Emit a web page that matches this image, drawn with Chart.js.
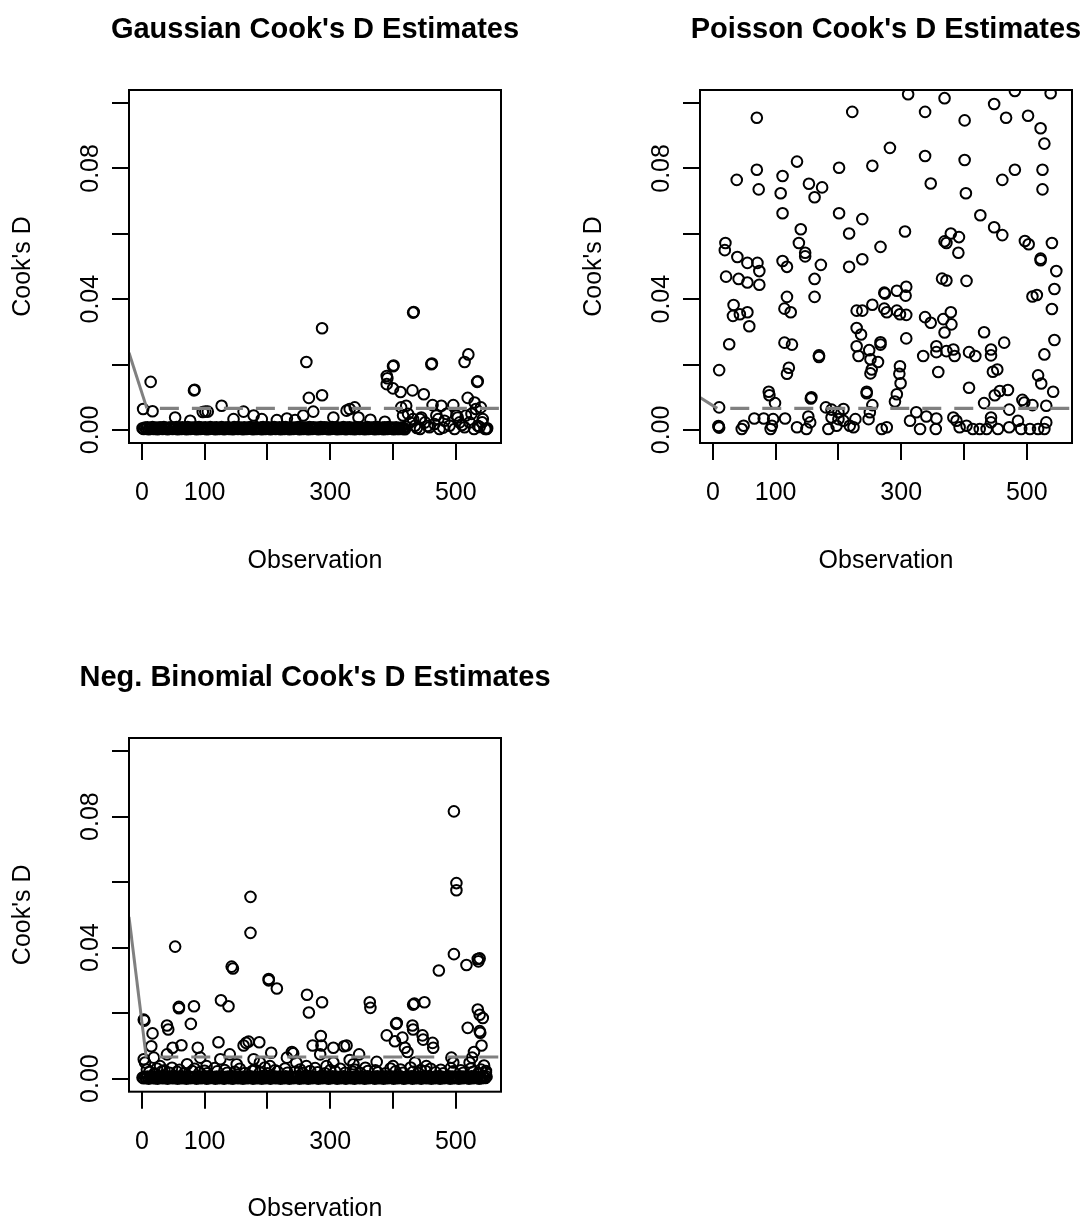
<!DOCTYPE html>
<html>
<head>
<meta charset="utf-8">
<script src="https://cdn.jsdelivr.net/npm/chart.js@4.4.1/dist/chart.umd.min.js"></script>
<style>
  html, body { margin: 0; padding: 0; background: #fff; overflow: hidden; }
  #wrap { position: relative; width: 1088px; height: 1220px; background: #fff; overflow: hidden; }
  canvas { position: absolute; }
</style>
</head>
<body>
<div id="wrap">
  <canvas id="c1" width="630" height="610" style="left:0;top:0;"></canvas>
  <canvas id="c2" width="630" height="610" style="left:571px;top:0;"></canvas>
  <canvas id="c3" width="630" height="572" style="left:0;top:648px;"></canvas>
</div>
<script>
// ---------------- data ----------------
const panelTitles = ["Gaussian Cook's D Estimates", "Poisson Cook's D Estimates", "Neg. Binomial Cook's D Estimates"];
const xAxisTitle = "Observation";
const yAxisTitle = "Cook's D";
const xTickValues = [0, 100, 200, 300, 400, 500];
const xTickLabels = ["0", "100", "", "300", "", "500"];
const yTickValues = [0, 0.02, 0.04, 0.06, 0.08, 0.10];
const yTickLabels = ["0.00", "", "0.04", "", "0.08", ""];
const cutoffD = 0.0066;

// Gaussian: upper points
const gaussianUpper = [[2,0.0064],[14,0.0147],[17,0.0057],[53,0.0038],[77,0.0028],[83,0.0121],[84,0.0123],[97,0.0055],[101,0.0056],[105,0.0056],[127,0.0074],[146,0.0033],[162,0.0056],[178,0.0044],[191,0.0033],[215,0.0030],[231,0.0035],[244,0.0030],[257,0.0044],[262,0.0208],[266,0.0098],[273,0.0056],[287,0.0311],[287,0.0106],[305,0.0038],[326,0.0059],[331,0.0064],[339,0.0069],[345,0.0038],[364,0.0031],[387,0.0025],[390,0.0165],[390,0.0140],[391,0.0158],[400,0.0195],[401,0.0197],[400,0.0127],[412,0.0116],[413,0.0069],[416,0.0044],[421,0.0074],[424,0.0049],[431,0.0121],[432,0.0359],[433,0.0361],[443,0.0033],[449,0.0109],[461,0.0201],[462,0.0203],[463,0.0076],[469,0.0044],[477,0.0074],[485,0.0049],[496,0.0076],[501,0.0044],[514,0.0208],[519,0.0098],[520,0.0231],[525,0.0049],[530,0.0084],[534,0.0147],[535,0.0149],[540,0.0069],[543,0.0033],[549,0.0003],[550,0.0005]];
// Gaussian: low points at the right end
const gaussianRightLow = [[410,0.0003],[416,0.0005],[427,0.0023],[432,0.0033],[435,0.0013],[443,0.0003],[445,0.0038],[451,0.0023],[458,0.0008],[466,0.0018],[472,0.0033],[474,0.0003],[482,0.0028],[490,0.0013],[498,0.0003],[503,0.0038],[506,0.0023],[514,0.0008],[516,0.0044],[522,0.0023],[529,0.0003],[532,0.0064],[535,0.0013],[542,0.0023],[547,0.0003],[420,0.0010],[438,0.0006],[455,0.0012],[480,0.0007],[510,0.0015],[538,0.0009]];
// Gaussian: dense band near zero
const gaussianBand = [[1,.0005],[3,.0003],[5,.0007],[7,.0004],[9,.0008],[11,.0002],[13,.0006],[15,.0005],[17,.0009],[19,.0003],[21,.0004],[23,.0007],[25,.0002],[27,.0006],[29,.0008],[31,.0005],[33,.0003],[35,.0009],[37,.0004],[39,.0006],
[41,.0002],[43,.0007],[45,.0005],[47,.0008],[49,.0003],[51,.0006],[53,.0004],[55,.0009],[57,.0002],[59,.0005],[61,.0007],[63,.0003],[65,.0008],[67,.0004],[69,.0006],[71,.0002],[73,.0009],[75,.0005],[77,.0003],[79,.0007],
[81,.0006],[83,.0004],[85,.0008],[87,.0002],[89,.0005],[91,.0009],[93,.0003],[95,.0007],[97,.0004],[99,.0006],[101,.0008],[103,.0002],[105,.0005],[107,.0003],[109,.0009],[111,.0006],[113,.0004],[115,.0007],[117,.0002],[119,.0008],
[121,.0005],[123,.0003],[125,.0006],[127,.0009],[129,.0004],[131,.0002],[133,.0007],[135,.0005],[137,.0008],[139,.0003],[141,.0006],[143,.0004],[145,.0002],[147,.0009],[149,.0005],[151,.0007],[153,.0003],[155,.0008],[157,.0004],[159,.0006],
[161,.0002],[163,.0008],[165,.0005],[167,.0003],[169,.0007],[171,.0004],[173,.0009],[175,.0006],[177,.0002],[179,.0005],[181,.0008],[183,.0003],[185,.0006],[187,.0004],[189,.0007],[191,.0002],[193,.0009],[195,.0005],[197,.0003],[199,.0006],
[201,.0008],[203,.0004],[205,.0002],[207,.0007],[209,.0005],[211,.0009],[213,.0003],[215,.0006],[217,.0004],[219,.0008],[221,.0002],[223,.0005],[225,.0007],[227,.0003],[229,.0009],[231,.0006],[233,.0004],[235,.0002],[237,.0008],[239,.0005],
[241,.0003],[243,.0007],[245,.0006],[247,.0004],[249,.0009],[251,.0002],[253,.0005],[255,.0008],[257,.0003],[259,.0006],[261,.0007],[263,.0004],[265,.0002],[267,.0009],[269,.0005],[271,.0003],[273,.0008],[275,.0006],[277,.0004],[279,.0007],
[281,.0002],[283,.0005],[285,.0009],[287,.0003],[289,.0006],[291,.0008],[293,.0004],[295,.0007],[297,.0002],[299,.0005],[301,.0003],[303,.0009],[305,.0006],[307,.0004],[309,.0008],[311,.0002],[313,.0007],[315,.0005],[317,.0003],[319,.0006],
[321,.0009],[323,.0004],[325,.0002],[327,.0007],[329,.0005],[331,.0008],[333,.0003],[335,.0006],[337,.0004],[339,.0002],[341,.0009],[343,.0005],[345,.0007],[347,.0003],[349,.0008],[351,.0006],[353,.0004],[355,.0002],[357,.0005],[359,.0009],
[361,.0003],[363,.0007],[365,.0006],[367,.0004],[369,.0008],[371,.0002],[373,.0005],[375,.0009],[377,.0003],[379,.0006],[381,.0004],[383,.0007],[385,.0002],[387,.0008],[389,.0005],[391,.0003],[393,.0009],[395,.0006],[397,.0004],[399,.0007],
[401,.0002],[403,.0005],[405,.0008],[407,.0003],[409,.0006],[411,.0004],[413,.0007],[415,.0003],[417,.0006],[419,.0002]];
const gaussianLead = [[-20.5,0.0236],[8,0.0066]];

// Poisson
const poissonUpper = [[311,0.1027],[369,0.1015],[481,0.1037],[538,0.1030],[448,0.0997],[70,0.0955],[222,0.0973],[338,0.0973],[401,0.0947],[467,0.0955],[502,0.0961],[522,0.0923],[528,0.0876],[282,0.0863],[338,0.0838],[401,0.0826],[134,0.0821],[254,0.0808],[201,0.0802],[70,0.0796],[38,0.0765],[111,0.0777],[73,0.0736],[108,0.0724],[153,0.0753],[174,0.0742],[162,0.0712],[347,0.0754],[403,0.0724],[481,0.0796],[461,0.0765],[525,0.0796],[525,0.0736],[111,0.0663],[201,0.0663],[238,0.0645],[426,0.0657],[448,0.0620],[461,0.0596],[140,0.0614],[217,0.0601],[306,0.0607],[379,0.0601],[392,0.0590],[369,0.0577],[372,0.0572],[391,0.0542],[20,0.0572],[19,0.0550],[39,0.0529],[55,0.0511],[71,0.0511],[74,0.0486],[137,0.0572],[147,0.0542],[147,0.0531],[111,0.0517],[118,0.0499],[172,0.0505],[217,0.0499],[238,0.0522],[267,0.0560],[497,0.0578],[503,0.0568],[540,0.0572],[522,0.0524],[522,0.0519],[547,0.0486],[21,0.0469],[41,0.0462],[55,0.0451],[74,0.0444],[162,0.0462],[365,0.0463],[372,0.0457],[404,0.0456],[544,0.0431],[308,0.0438],[293,0.0426],[273,0.0420],[274,0.0417],[307,0.0411],[509,0.0408],[516,0.0413],[118,0.0407],[162,0.0407],[540,0.0370],[33,0.0382],[32,0.0349],[43,0.0354],[55,0.0360],[58,0.0317],[114,0.0371],[124,0.0360],[229,0.0365],[238,0.0365],[254,0.0383],[273,0.0371],[277,0.0360],[293,0.0365],[298,0.0354],[308,0.0352],[338,0.0345],[347,0.0328],[367,0.0339],[379,0.0360],[380,0.0323],[369,0.0298],[229,0.0312],[236,0.0292],[432,0.0299],[464,0.0267],[544,0.0275],[308,0.0280],[267,0.0268],[267,0.0261],[26,0.0262],[114,0.0267],[126,0.0261],[229,0.0256],[232,0.0226],[249,0.0244],[251,0.0216],[263,0.0208],[253,0.0185],[251,0.0173],[169,0.0228],[169,0.0223],[335,0.0226],[356,0.0256],[356,0.0238],[372,0.0241],[383,0.0246],[385,0.0226],[408,0.0238],[418,0.0226],[443,0.0246],[443,0.0228],[528,0.0231],[298,0.0195],[297,0.0172],[299,0.0143],[293,0.0109],[290,0.0087],[359,0.0177],[446,0.0178],[453,0.0185],[121,0.0190],[118,0.0172],[10,0.0183],[518,0.0167],[523,0.0142],[542,0.0117],[408,0.0129],[449,0.0106],[457,0.0119],[470,0.0122],[432,0.0082],[493,0.0092],[496,0.0084],[509,0.0076],[531,0.0074],[472,0.0062],[89,0.0117],[90,0.0106],[99,0.0082],[157,0.0100],[156,0.0096],[245,0.0117],[245,0.0112],[254,0.0076],[10,0.0069],[180,0.0069],[189,0.0062],[208,0.0064],[200,0.0054],[250,0.0054]];
const poissonLow = [[9,0.0010],[10,0.0007],[9,0.0012],[49,0.0013],[46,0.0003],[66,0.0035],[81,0.0035],[94,0.0013],[92,0.0003],[96,0.0033],[115,0.0035],[134,0.0008],[149,0.0003],[152,0.0041],[155,0.0023],[184,0.0003],[189,0.0038],[197,0.0013],[200,0.0033],[208,0.0028],[218,0.0013],[224,0.0008],[227,0.0033],[248,0.0033],[269,0.0003],[277,0.0008],[314,0.0028],[324,0.0054],[330,0.0003],[340,0.0041],[355,0.0003],[356,0.0035],[383,0.0038],[388,0.0028],[393,0.0008],[404,0.0013],[414,0.0003],[425,0.0003],[436,0.0003],[443,0.0038],[443,0.0023],[454,0.0003],[472,0.0008],[486,0.0028],[491,0.0003],[505,0.0003],[518,0.0003],[531,0.0023],[528,0.0003]];
const poissonLead = [[-20.5,0.0099],[7,0.0066]];

// Negative binomial
const negbinUpper = [[497,0.0816],[501,0.0597],[501,0.0575],[173,0.0555],[173,0.0445],[53,0.0403],[497,0.0380],[473,0.0330],[517,0.0347],[535,0.0365],[538,0.0367],[536,0.0358],[143,0.0342],[145,0.0336],[202,0.0304],[202,0.0300],[215,0.0275],[263,0.0256],[266,0.0202],[287,0.0233],[126,0.0239],[138,0.0221],[59,0.0219],[59,0.0215],[83,0.0221],[363,0.0233],[364,0.0216],[432,0.0226],[434,0.0229],[450,0.0233],[535,0.0211],[538,0.0195],[543,0.0185],[519,0.0155],[538,0.0145],[539,0.0140],[541,0.0101],[3,0.0180],[4,0.0177],[17,0.0138],[15,0.0099],[40,0.0162],[42,0.0150],[78,0.0167],[49,0.0094],[63,0.0102],[89,0.0094],[122,0.0111],[162,0.0101],[166,0.0109],[170,0.0113],[187,0.0111],[206,0.0079],[239,0.0081],[241,0.0077],[272,0.0101],[285,0.0130],[286,0.0101],[305,0.0094],[322,0.0099],[326,0.0101],[346,0.0074],[390,0.0132],[403,0.0114],[405,0.0167],[406,0.0170],[415,0.0125],[419,0.0094],[423,0.0081],[431,0.0162],[432,0.0150],[447,0.0132],[448,0.0119],[463,0.0109],[464,0.0094],[435,0.0049],[529,0.0081],[526,0.0064],[545,0.0040],[548,0.0018],[493,0.0064],[374,0.0051],[331,0.0057],[305,0.0049],[284,0.0074],[262,0.0038],[231,0.0064],[188,0.0049],[178,0.0059],[140,0.0074],[125,0.0059],[93,0.0064],[40,0.0074],[19,0.0064],[3,0.0059],[5,0.0049],[29,0.0038],[72,0.0044],[103,0.0038],[151,0.0044],[204,0.0038],[246,0.0049],[294,0.0038],[337,0.0044],[400,0.0038],[453,0.0038],[496,0.0049],[522,0.0049]];
const negbinMid = [[8,0.0028],[24,0.0031],[36,0.0025],[48,0.0033],[60,0.0027],[84,0.0030],[100,0.0024],[116,0.0032],[132,0.0026],[156,0.0030],[180,0.0027],[196,0.0034],[212,0.0025],[228,0.0031],[252,0.0028],[276,0.0032],[300,0.0026],[316,0.0030],[340,0.0027],[356,0.0033],[372,0.0025],[396,0.0031],[412,0.0028],[428,0.0034],[444,0.0026],[460,0.0030],[476,0.0027],[492,0.0032],[508,0.0025],[524,0.0031],[540,0.0028],
[12,.0020],[20,.0016],[32,.0022],[44,.0018],[56,.0021],[68,.0017],[80,.0023],[92,.0019],[104,.0016],[120,.0022],[136,.0018],[148,.0021],[164,.0017],[176,.0023],[188,.0019],[200,.0016],[216,.0022],[232,.0018],[244,.0021],[256,.0017],[268,.0023],[280,.0019],[292,.0016],[308,.0022],[324,.0018],[336,.0021],[348,.0017],[360,.0023],[376,.0019],[388,.0016],[404,.0022],[416,.0018],[432,.0021],[440,.0017],[452,.0023],[468,.0019],[480,.0016],[496,.0022],[512,.0018],[528,.0021],[536,.0017],[548,.0023]];
const negbinBand = [[1,.0003],[3,.0001],[5,.0005],[7,.0002],[9,.0006],[11,0],[13,.0004],[15,.0003],[17,.0007],[19,.0001],[21,.0002],[23,.0005],[25,0],[27,.0004],[29,.0006],[31,.0003],[33,.0001],[35,.0007],[37,.0002],[39,.0004],
[41,0],[43,.0005],[45,.0003],[47,.0006],[49,.0001],[51,.0004],[53,.0002],[55,.0007],[57,0],[59,.0003],[61,.0005],[63,.0001],[65,.0006],[67,.0002],[69,.0004],[71,0],[73,.0007],[75,.0003],[77,.0001],[79,.0005],
[81,.0004],[83,.0002],[85,.0006],[87,0],[89,.0003],[91,.0007],[93,.0001],[95,.0005],[97,.0002],[99,.0004],[101,.0006],[103,0],[105,.0003],[107,.0001],[109,.0007],[111,.0004],[113,.0002],[115,.0005],[117,0],[119,.0006],
[121,.0003],[123,.0001],[125,.0004],[127,.0007],[129,.0002],[131,0],[133,.0005],[135,.0003],[137,.0006],[139,.0001],[141,.0004],[143,.0002],[145,0],[147,.0007],[149,.0003],[151,.0005],[153,.0001],[155,.0006],[157,.0002],[159,.0004],
[161,0],[163,.0006],[165,.0003],[167,.0001],[169,.0005],[171,.0002],[173,.0007],[175,.0004],[177,0],[179,.0003],[181,.0006],[183,.0001],[185,.0004],[187,.0002],[189,.0005],[191,0],[193,.0007],[195,.0003],[197,.0001],[199,.0004],
[201,.0006],[203,.0002],[205,0],[207,.0005],[209,.0003],[211,.0007],[213,.0001],[215,.0004],[217,.0002],[219,.0006],[221,0],[223,.0003],[225,.0005],[227,.0001],[229,.0007],[231,.0004],[233,.0002],[235,0],[237,.0006],[239,.0003],
[241,.0001],[243,.0005],[245,.0004],[247,.0002],[249,.0007],[251,0],[253,.0003],[255,.0006],[257,.0001],[259,.0004],[261,.0005],[263,.0002],[265,0],[267,.0007],[269,.0003],[271,.0001],[273,.0006],[275,.0004],[277,.0002],[279,.0005],
[281,0],[283,.0003],[285,.0007],[287,.0001],[289,.0004],[291,.0006],[293,.0002],[295,.0005],[297,0],[299,.0003],[301,.0001],[303,.0007],[305,.0004],[307,.0002],[309,.0006],[311,0],[313,.0005],[315,.0003],[317,.0001],[319,.0004],
[321,.0007],[323,.0002],[325,0],[327,.0005],[329,.0003],[331,.0006],[333,.0001],[335,.0004],[337,.0002],[339,0],[341,.0007],[343,.0003],[345,.0005],[347,.0001],[349,.0006],[351,.0004],[353,.0002],[355,0],[357,.0003],[359,.0007],
[361,.0001],[363,.0005],[365,.0004],[367,.0002],[369,.0006],[371,0],[373,.0003],[375,.0007],[377,.0001],[379,.0004],[381,.0002],[383,.0005],[385,0],[387,.0006],[389,.0003],[391,.0001],[393,.0007],[395,.0004],[397,.0002],[399,.0005],
[401,0],[403,.0003],[405,.0006],[407,.0001],[409,.0004],[411,.0007],[413,.0002],[415,.0005],[417,0],[419,.0003],[421,.0001],[423,.0006],[425,.0004],[427,.0002],[429,.0007],[431,0],[433,.0005],[435,.0003],[437,.0001],[439,.0004],
[441,.0006],[443,.0002],[445,0],[447,.0005],[449,.0003],[451,.0007],[453,.0001],[455,.0004],[457,.0002],[459,.0006],[461,0],[463,.0003],[465,.0005],[467,.0001],[469,.0007],[471,.0004],[473,.0002],[475,0],[477,.0006],[479,.0003],
[481,.0001],[483,.0005],[485,.0004],[487,.0002],[489,.0007],[491,0],[493,.0003],[495,.0006],[497,.0001],[499,.0004],[501,.0005],[503,.0002],[505,0],[507,.0007],[509,.0003],[511,.0001],[513,.0006],[515,.0004],[517,.0002],[519,.0005],
[521,0],[523,.0003],[525,.0007],[527,.0001],[529,.0004],[531,.0006],[533,.0002],[535,.0005],[537,0],[539,.0003],[541,.0001],[543,.0007],[545,.0004],[547,.0002],[549,.0006]];
const negbinLead = [[-20.5,0.0494],[7,0.0064]];

// ---------------- chart building ----------------
const FONT = "'Liberation Sans', Arial, Helvetica, sans-serif";
const X_MIN = -20.5, X_MAX = 572;
const Y_MIN = -0.004, Y_MAX = 0.104;

const boxPlugin = {
  id: 'plotBox',
  afterDatasetsDraw(chart) {
    const a = chart.chartArea, ctx = chart.ctx;
    ctx.save();
    ctx.strokeStyle = '#000';
    ctx.lineWidth = 2;
    ctx.strokeRect(a.left, a.top, a.right - a.left, a.bottom - a.top);
    ctx.restore();
  }
};

const toXY = arr => arr.map(p => ({ x: p[0], y: p[1] }));

function makePanel(id, title, points, lead, opt) {
  const ctx = document.getElementById(id).getContext('2d');
  const leadEnd = lead[lead.length - 1][0];
  return new Chart(ctx, {
    type: 'scatter',
    data: {
      datasets: [
        { data: toXY(lead), showLine: true, borderColor: '#808080', borderWidth: 3,
          pointRadius: 0, order: 0, clip: 0 },
        { data: toXY([[leadEnd, cutoffD], [X_MAX, cutoffD]]), showLine: true, borderColor: '#808080',
          borderWidth: 3.2, borderDash: [19, 13], borderDashOffset: 19, borderCapStyle: 'butt',
          pointRadius: 0, order: 0, clip: 0 },
        { data: toXY(points), pointStyle: 'circle', pointRadius: 5.3, borderWidth: 2.0,
          borderColor: '#000', backgroundColor: 'rgba(0,0,0,0)', order: 1, clip: 0 }
      ]
    },
    options: {
      responsive: false, animation: false, devicePixelRatio: 1,
      events: [],
      layout: { padding: 0 },
      plugins: {
        legend: { display: false },
        tooltip: { enabled: false },
        title: { display: true, text: title, fullSize: true, color: '#000',
          font: { family: FONT, size: 29, weight: 'bold', lineHeight: 1.2 },
          padding: { top: 12.6, bottom: 42.6 } }
      },
      scales: {
        x: {
          type: 'linear', position: 'bottom', min: X_MIN, max: X_MAX,
          afterBuildTicks: s => { s.ticks = xTickValues.map(v => ({ value: v })); },
          afterFit: s => { s.height = opt.canvasH - opt.boxBottom; },
          grid: { drawOnChartArea: false, drawTicks: true, tickLength: 17, color: '#000', lineWidth: 2 },
          border: { display: false },
          ticks: { autoSkip: false, maxRotation: 0, minRotation: 0, padding: 18, color: '#000',
            font: { family: FONT, size: 25, lineHeight: 1.2 },
            callback: (v, i) => xTickLabels[i] },
          title: { display: true, text: xAxisTitle, color: '#000',
            font: { family: FONT, size: 25, lineHeight: 0.8 },
            padding: { top: 0, bottom: opt.xTitlePad } }
        },
        y: {
          type: 'linear', position: 'left', min: Y_MIN, max: Y_MAX,
          afterBuildTicks: s => { s.ticks = yTickValues.map(v => ({ value: v })); },
          afterFit: s => { s.width = 129; },
          grid: { drawOnChartArea: false, drawTicks: true, tickLength: 17, color: '#000', lineWidth: 2 },
          border: { display: false },
          ticks: { autoSkip: false, minRotation: 90, maxRotation: 90, crossAlign: 'center', padding: -3,
            color: '#000', font: { family: FONT, size: 25, lineHeight: 1.2 },
            callback: (v, i) => yTickLabels[i] },
          title: { display: true, text: yAxisTitle, color: '#000',
            font: { family: FONT, size: 25, lineHeight: 0.8 },
            padding: { top: 13, bottom: 0 } }
        },
        spacer: {
          type: 'linear', position: 'right', display: true,
          afterFit: s => { s.width = opt.rightW; },
          grid: { display: false, drawTicks: false }, border: { display: false },
          ticks: { display: false }, title: { display: false }
        }
      }
    },
    plugins: [boxPlugin]
  });
}

makePanel('c1', panelTitles[0], gaussianBand.concat(gaussianRightLow, gaussianUpper), gaussianLead,
  { rightW: 129, canvasH: 610, boxBottom: 443, xTitlePad: 39 });
makePanel('c2', panelTitles[1], poissonLow.concat(poissonUpper), poissonLead,
  { rightW: 129, canvasH: 610, boxBottom: 443, xTitlePad: 39 });
makePanel('c3', panelTitles[2], negbinBand.concat(negbinMid, negbinUpper), negbinLead,
  { rightW: 129, canvasH: 572, boxBottom: 443.7, xTitlePad: 1 });
</script>
</body>
</html>
